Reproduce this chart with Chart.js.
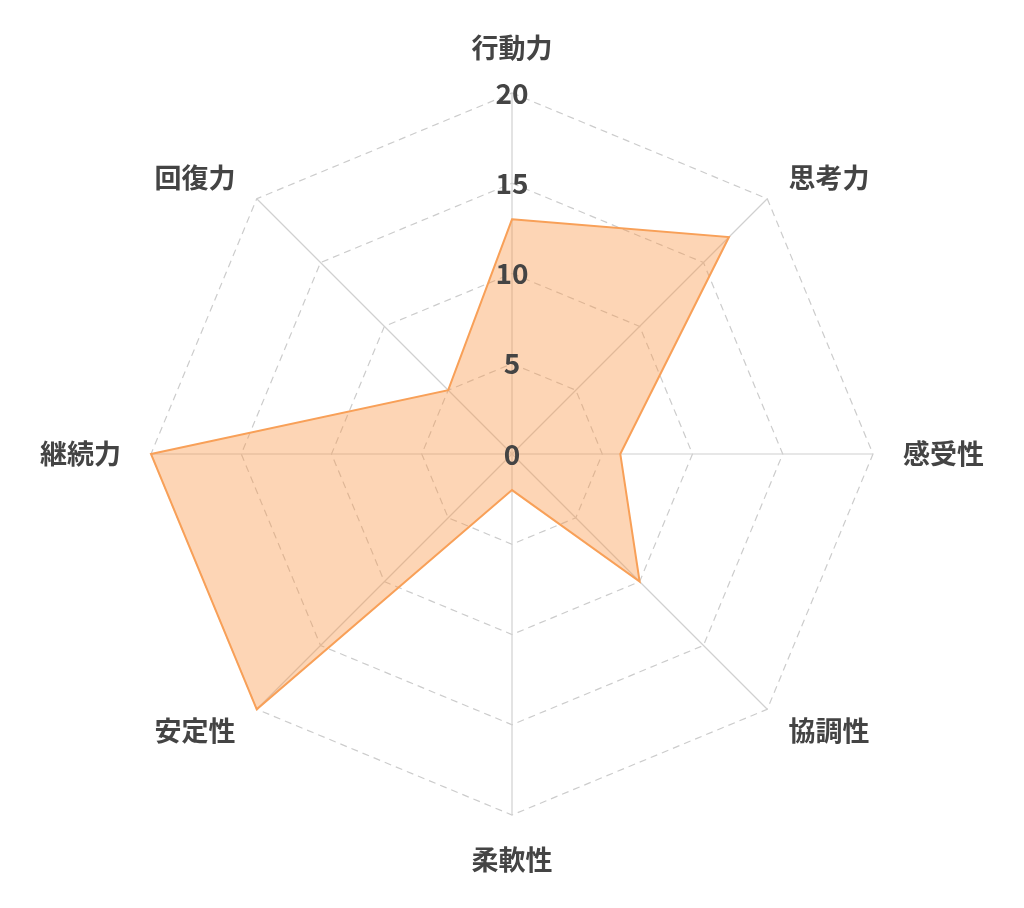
<!DOCTYPE html>
<html><head><meta charset="utf-8">
<script src="https://cdn.jsdelivr.net/npm/chart.js@4.4.0/dist/chart.umd.min.js"></script>
<style>html,body{margin:0;padding:0;background:#fff}#wrap{width:1024px;height:908px}</style>
</head><body><div id="wrap"><canvas id="c"></canvas></div>
<script>
const categories = ["行動力","思考力","感受性","協調性","柔軟性","安定性","継続力","回復力"];
const values = [13, 17, 6, 10, 2, 20, 20, 5];
const tickValues = [0, 5, 10, 15, 20];

const tickFontCss = 'bold 28px "Noto Sans CJK JP", sans-serif';
const labelFontCss = 'bold 27px "Noto Sans CJK JP", sans-serif';

const labelsAndZero = {
  id: 'labelsAndZero',
  afterDatasetsDraw(chart) {
    const s = chart.scales.r;
    const ctx = chart.ctx;
    ctx.save();
    // zero tick (Chart.js skips the first tick label)
    ctx.font = tickFontCss;
    ctx.fillStyle = '#444';
    ctx.textAlign = 'center';
    ctx.textBaseline = 'middle';
    ctx.fillText(String(tickValues[0]), s.xCenter, s.yCenter);
    // category labels
    ctx.font = labelFontCss;
    const n = categories.length;
    categories.forEach((lab, i) => {
      const p = s.getPointPosition(i, s.drawingArea + 30);
      const deg = (i * 360 / n) % 360;
      let x = p.x, y = p.y;
      if (deg === 0) { ctx.textAlign = 'center'; y -= 15; }
      else if (deg === 180) { ctx.textAlign = 'center'; y += 15; }
      else if (deg < 180) { ctx.textAlign = 'left'; }
      else { ctx.textAlign = 'right'; }
      ctx.textBaseline = 'middle';
      ctx.fillText(lab, x, y);
    });
    ctx.restore();
  }
};

new Chart(document.getElementById('c'), {
  type: 'radar',
  data: {
    labels: categories,
    datasets: [{
      data: values,
      backgroundColor: 'rgba(250,150,70,0.4)',
      borderColor: 'rgb(248,160,88)',
      borderWidth: 2,
      pointRadius: 0,
      pointHoverRadius: 0
    }]
  },
  options: {
    responsive: true,
    maintainAspectRatio: false,
    animation: false,
    layout: { padding: { top: 77, bottom: 77, left: 0, right: 0 } },
    plugins: { legend: { display: false }, tooltip: { enabled: false } },
    scales: {
      r: {
        min: tickValues[0],
        max: tickValues[tickValues.length - 1],
        ticks: {
          stepSize: 5,
          showLabelBackdrop: false,
          color: '#444',
          font: { family: '"Noto Sans CJK JP", sans-serif', size: 28, weight: 'bold' },
          z: 1
        },
        grid: { color: '#cccccc', lineWidth: 1.2 },
        border: { dash: [7, 5] },
        angleLines: { color: '#d0d0d0', lineWidth: 1.2 },
        pointLabels: { display: false }
      }
    }
  },
  plugins: [labelsAndZero]
});
</script></body></html>
